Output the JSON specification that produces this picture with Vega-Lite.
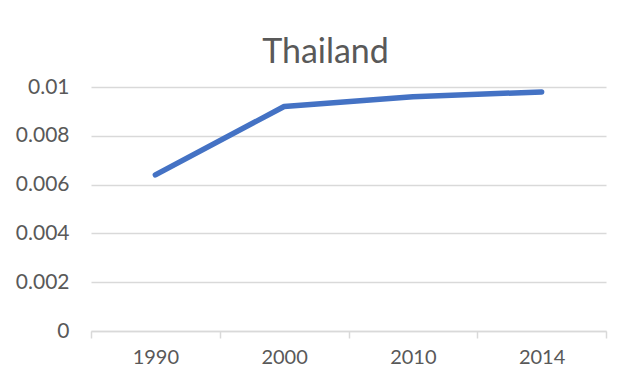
{
  "$schema": "https://vega.github.io/schema/vega-lite/v6.json",
  "autosize": "none",
  "width": 515,
  "height": 244,
  "padding": {"left": 91, "top": 87, "right": 21, "bottom": 51},
  "background": "white",
  "config": {"view": {"stroke": null}, "font": "Lato"},
  "title": {"text": "Thailand", "fontSize": 34, "font": "Lato", "fontWeight": "normal", "color": "#595959", "anchor": "middle", "dx": -23, "offset": 6},
  "data": {"values": [
    {"year": "1990", "value": 0.0064},
    {"year": "2000", "value": 0.0092},
    {"year": "2010", "value": 0.0096},
    {"year": "2014", "value": 0.0098}
  ]},
  "mark": {"type": "line", "color": "#4472C4", "strokeWidth": 5.5, "strokeCap": "round", "strokeJoin": "round"},
  "encoding": {
    "x": {"field": "year", "type": "ordinal", "sort": null,
      "scale": {"paddingInner": 0, "paddingOuter": 0},
      "axis": {"title": null, "labelAngle": 0, "labelFontSize": 20, "labelColor": "#595959", "labelFont": "Lato",
        "domainColor": "#d9d9d9", "domainWidth": 1.5, "tickColor": "#d9d9d9", "tickWidth": 1.5, "tickSize": 7, "tickBand": "extent", "labelPadding": 9, "grid": false}},
    "y": {"field": "value", "type": "quantitative",
      "scale": {"domain": [0, 0.01], "nice": false},
      "axis": {"title": null, "values": [0, 0.002, 0.004, 0.006, 0.008, 0.01], "format": "~g", "labelFontSize": 21, "labelColor": "#595959", "labelFont": "Lato",
        "domain": false, "ticks": false, "labelPadding": 22, "gridColor": "#d9d9d9", "gridWidth": 1.5}}
  }
}
